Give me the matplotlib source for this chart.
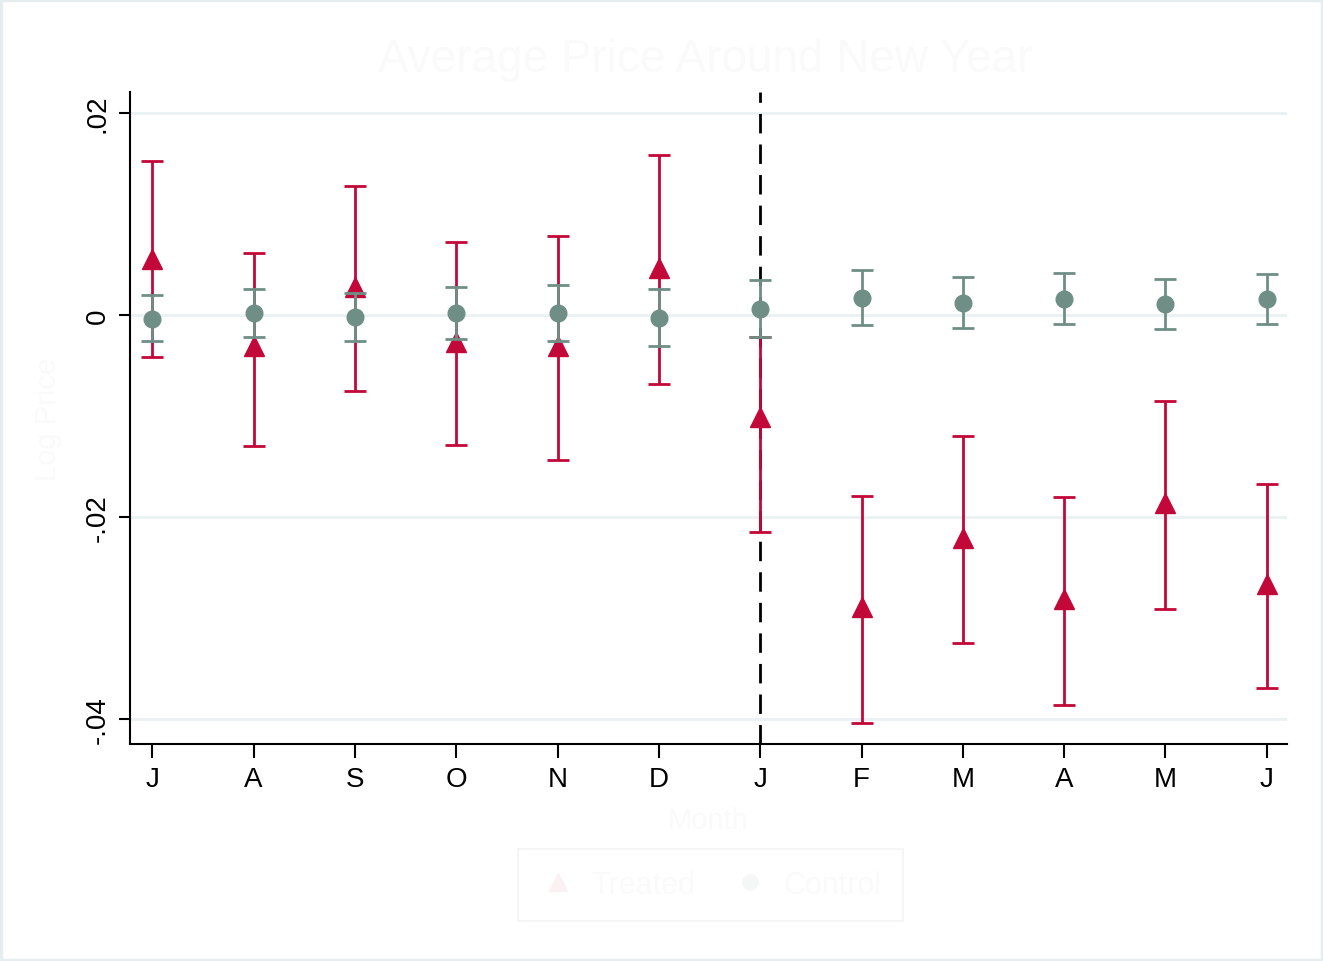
import matplotlib.pyplot as plt
from matplotlib.lines import Line2D
from matplotlib.patches import Rectangle

plt.rcParams["font.family"] = ["Liberation Sans", "DejaVu Sans"]

months = ["J", "A", "S", "O", "N", "D", "J", "F", "M", "A", "M", "J"]

treated = [0.0056, -0.0031, 0.0028, -0.0027, -0.0031, 0.0047,
           -0.0101, -0.0289, -0.0221, -0.0281, -0.0186, -0.0266]
treated_hi = [0.0153, 0.0061, 0.0128, 0.0072, 0.0078, 0.0159,
              -0.0022, -0.0179, -0.0120, -0.0180, -0.0085, -0.0167]
treated_lo = [-0.0042, -0.0130, -0.0075, -0.0129, -0.0144, -0.0068,
              -0.0215, -0.0404, -0.0325, -0.0386, -0.0291, -0.0370]

control = [-0.0004, 0.0002, -0.0002, 0.0002, 0.0002, -0.0003,
           0.0006, 0.0017, 0.0012, 0.0016, 0.0011, 0.0016]
control_hi = [0.0020, 0.0026, 0.0022, 0.0028, 0.0030, 0.0026,
              0.0035, 0.0045, 0.0038, 0.0042, 0.0036, 0.0041]
control_lo = [-0.0026, -0.0022, -0.0026, -0.0024, -0.0026, -0.0031,
              -0.0022, -0.0010, -0.0013, -0.0009, -0.0014, -0.0009]

RED = "#C20838"
GREEN = "#6F8F86"
FAINT = "#FAFAFA"

x = list(range(1, len(months) + 1))

fig = plt.figure(figsize=(13.23, 9.62), dpi=100)
fig.patches.append(Rectangle((0.001, 0.001), 0.998, 0.998, transform=fig.transFigure,
                             fill=False, edgecolor="#E6EDEF", linewidth=2.5))
ax = fig.add_axes([0.0983, 0.2256, 0.8745, 0.6777])

for y in [-0.04, -0.02, 0, 0.02]:
    ax.axhline(y, color="#EAF1F2", linewidth=2, zorder=0)

ax.axvline(7, color="black", linewidth=2, dashes=(7, 4), zorder=1)

ax.errorbar(
    x, treated,
    yerr=[[t - lo for t, lo in zip(treated, treated_lo)],
          [hi - t for t, hi in zip(treated, treated_hi)]],
    fmt="^", color=RED, markersize=15, elinewidth=2, capsize=8, capthick=2,
    zorder=2,
)
ax.errorbar(
    x, control,
    yerr=[[c - lo for c, lo in zip(control, control_lo)],
          [hi - c for c, hi in zip(control, control_hi)]],
    fmt="o", color=GREEN, markersize=12, elinewidth=2, capsize=8, capthick=2,
    zorder=3,
)

ax.set_xlim(0.78, 12.2)
ax.set_ylim(-0.0425, 0.0221)
ax.set_xticks(x)
ax.set_xticklabels(months, fontsize=20)
ax.set_yticks([-0.04, -0.02, 0, 0.02])
ax.set_yticklabels(["-.04", "-.02", "0", ".02"], fontsize=20, rotation=90, va="center")
ax.tick_params(axis="x", length=10, width=1.5, pad=6)
ax.tick_params(axis="y", length=8, width=1.5, pad=6)

for side in ["top", "right"]:
    ax.spines[side].set_visible(False)
for side in ["left", "bottom"]:
    ax.spines[side].set_linewidth(1.5)

fig.text(0.533, 0.938, "Average Price Around New Year", fontsize=33, color=FAINT,
         ha="center", va="center")
ax.set_ylabel("Log Price", fontsize=21, color=FAINT, labelpad=16)
ax.set_xlabel("Month", fontsize=21, color=FAINT, labelpad=10)

handles = [
    Line2D([], [], linestyle="none", marker="^", markersize=13, color="#FBF0F2"),
    Line2D([], [], linestyle="none", marker="o", markersize=11, color="#F5F7F6"),
]
legend = fig.legend(handles, ["Treated", "Control"], loc="center",
                    bbox_to_anchor=(0.537, 0.079), ncol=2, fontsize=22,
                    frameon=True, fancybox=False, columnspacing=1.2,
                    handletextpad=0.5, borderpad=0.7, handlelength=1.2)
legend.get_frame().set_edgecolor("#F2F3F3")
legend.get_frame().set_linewidth(1.5)
for text in legend.get_texts():
    text.set_color(FAINT)

fig.savefig("out.png", dpi=100)
